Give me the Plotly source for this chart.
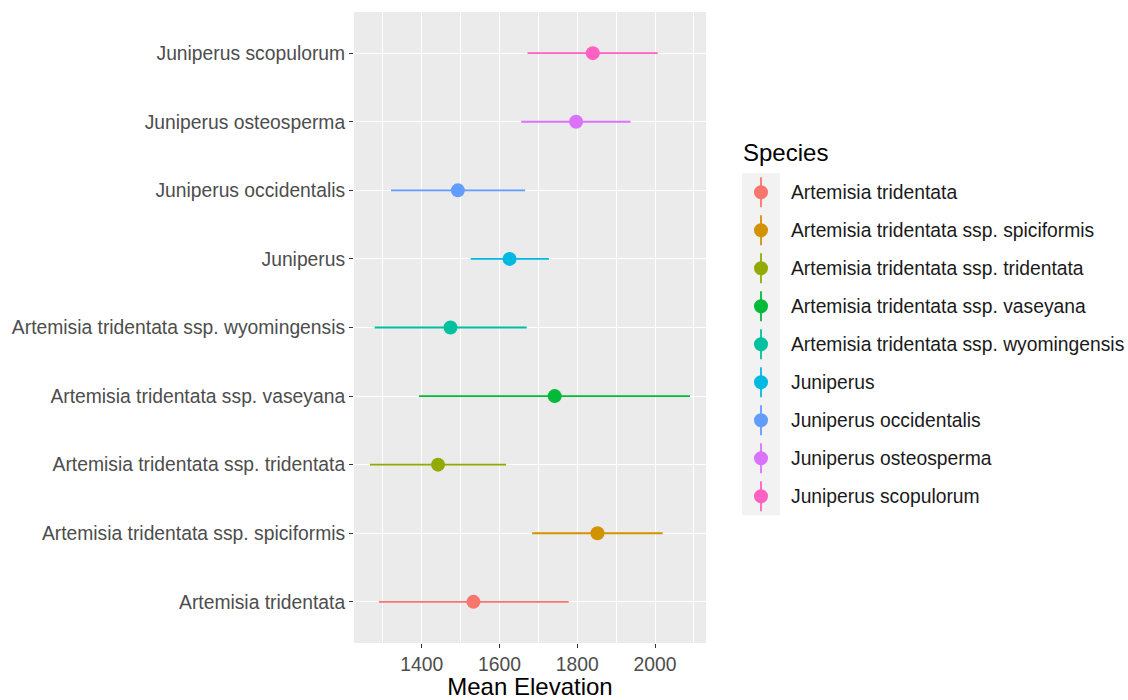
import plotly.graph_objects as go

# Species, bottom to top on the y axis
species = [
    "Artemisia tridentata",
    "Artemisia tridentata ssp. spiciformis",
    "Artemisia tridentata ssp. tridentata",
    "Artemisia tridentata ssp. vaseyana",
    "Artemisia tridentata ssp. wyomingensis",
    "Juniperus",
    "Juniperus occidentalis",
    "Juniperus osteosperma",
    "Juniperus scopulorum",
]
mean_elev = [1533, 1852, 1442, 1742, 1474, 1626, 1493, 1797, 1840]
lower_elev = [1290, 1684, 1267, 1393, 1279, 1526, 1321, 1656, 1672]
upper_elev = [1778, 2020, 1617, 2090, 1670, 1727, 1666, 1937, 2007]
colors = ["#F8766D", "#D39200", "#93AA00", "#00BA38", "#00C19F",
          "#00B9E3", "#619CFF", "#DB72FB", "#FF61C3"]
x_ticks = [1400, 1600, 1800, 2000]

FONT = "Liberation Sans, Arial, Helvetica, sans-serif"
W, H = 1128, 700
PANEL = dict(l=354, r=706, t=12, b=643)
TEXT_SIZE = 19.3
TITLE_SIZE = 24

fig = go.Figure()

for i, (sp, m, lo, hi, c) in enumerate(zip(species, mean_elev, lower_elev, upper_elev, colors)):
    fig.add_trace(go.Scatter(
        x=[m], y=[i], mode="markers", name=sp, showlegend=False,
        marker=dict(color=c, size=14, line=dict(width=0)),
        error_x=dict(type="data", symmetric=False, array=[hi - m], arrayminus=[m - lo],
                     color=c, thickness=1.8, width=0),
    ))

span = max(upper_elev) - min(lower_elev)
x_range = [min(lower_elev) - 0.05 * span, max(upper_elev) + 0.05 * span]

fig.update_xaxes(
    range=x_range, tickvals=x_ticks, ticktext=[str(t) for t in x_ticks],
    showgrid=True, gridcolor="white", gridwidth=1.1,
    minor=dict(dtick=100, tick0=0, showgrid=True, gridcolor="white", gridwidth=0.55, ticklen=0),
    ticks="outside", ticklen=4, tickwidth=1, tickcolor="#333333",
    tickfont=dict(family=FONT, size=TEXT_SIZE, color="#4D4D4D"),
    title=dict(text="Mean Elevation", font=dict(family=FONT, size=TITLE_SIZE, color="#000000"), standoff=6),
    zeroline=False, showline=False, automargin=False,
)
fig.update_yaxes(
    range=[-0.6, len(species) - 0.4], tickvals=list(range(len(species))), ticktext=species,
    showgrid=True, gridcolor="white", gridwidth=1.1,
    ticks="outside", ticklen=4, tickwidth=1, tickcolor="#333333",
    tickfont=dict(family=FONT, size=TEXT_SIZE, color="#4D4D4D"),
    zeroline=False, showline=False, automargin=False,
)

# Legend drawn by hand: grey key boxes with a point-range glyph, then the labels
key_x0, key_x1 = 742, 780
key_top, key_h = 173.3, 38.0
plot_w = PANEL["r"] - PANEL["l"]
plot_h = PANEL["b"] - PANEL["t"]


def px_x(v):
    return (v - PANEL["l"]) / plot_w


def px_y(v):
    return (PANEL["b"] - v) / plot_h


shapes = []
annotations = []
annotations.append(dict(
    x=px_x(741), y=px_y(153), xref="paper", yref="paper", text="Species", showarrow=False,
    xanchor="left", yanchor="middle", font=dict(family=FONT, size=TITLE_SIZE, color="#000000"),
))
shapes.append(dict(type="rect", xref="paper", yref="paper", layer="below",
                   x0=px_x(key_x0), x1=px_x(key_x1),
                   y0=px_y(key_top + key_h * len(species)), y1=px_y(key_top),
                   fillcolor="#F2F2F2", line=dict(width=0)))
cx = (key_x0 + key_x1) / 2
for i, (sp, c) in enumerate(zip(species, colors)):
    cy = key_top + key_h * (i + 0.5)
    shapes.append(dict(type="line", xref="paper", yref="paper",
                       x0=px_x(cx), x1=px_x(cx), y0=px_y(cy - 15), y1=px_y(cy + 15),
                       line=dict(color=c, width=1.8)))
    shapes.append(dict(type="circle", xref="paper", yref="paper",
                       xsizemode="pixel", ysizemode="pixel",
                       xanchor=px_x(cx), yanchor=px_y(cy),
                       x0=-7, x1=7, y0=-7, y1=7,
                       fillcolor=c, line=dict(width=0)))
    annotations.append(dict(
        x=px_x(789), y=px_y(cy), xref="paper", yref="paper", text=sp, showarrow=False,
        xanchor="left", yanchor="middle", font=dict(family=FONT, size=TEXT_SIZE, color="#1A1A1A"),
    ))

fig.update_layout(
    width=W, height=H,
    margin=dict(l=PANEL["l"], r=W - PANEL["r"], t=PANEL["t"], b=H - PANEL["b"], pad=0),
    paper_bgcolor="white", plot_bgcolor="#EBEBEB",
    showlegend=False, shapes=shapes, annotations=annotations,
)

fig.write_html("out.html")
